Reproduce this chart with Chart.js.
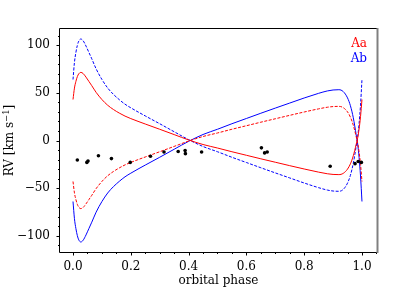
<!DOCTYPE html>
<html>
<head>
<meta charset="utf-8">
<script src="https://cdn.jsdelivr.net/npm/chart.js@4.4.0/dist/chart.umd.min.js"></script>
<style>
html, body { margin: 0; padding: 0; background: #fff; }
#wrap { width: 397px; height: 297px; }
</style>
</head>
<body>
<div id="wrap"><canvas id="rvChart"></canvas></div>
<script>
/* curvas de velocidad radial */
var phase = [0, 0.005, 0.01, 0.015, 0.02, 0.027, 0.035, 0.045, 0.055, 0.065, 0.08, 0.1, 0.12, 0.14, 0.16, 0.18, 0.2, 0.25, 0.3, 0.35, 0.4, 0.45, 0.5, 0.55, 0.6, 0.65, 0.7, 0.75, 0.8, 0.85, 0.88, 0.9, 0.92, 0.935, 0.95, 0.96, 0.97, 0.98, 0.985, 0.99, 0.995, 1.0];
var aaSolid  = [43, 55, 62, 67, 70, 71.5, 70.3, 66.5, 62, 57.5, 50.5, 43, 37, 32.5, 28.8, 25.6, 23, 17.3, 11.8, 6.2, 0.6, -4.2, -7.9, -11.8, -15.5, -19.2, -22.8, -26.4, -29.9, -33.2, -34.9, -35.6, -35.8, -34.5, -30, -24.5, -16, -4, 2.5, 12, 25, 43];
var aaDashed = [-43, -55, -62, -67, -70, -71.5, -70.3, -66.5, -62, -57.5, -50.5, -43, -37, -32.5, -28.8, -25.6, -23, -17.3, -11.8, -6.2, -0.6, 4.2, 7.9, 11.8, 15.5, 19.2, 22.8, 26.4, 29.9, 33.2, 34.9, 35.6, 35.8, 34.5, 30, 24.5, 16, 4, -2.5, -12, -25, -43];
var abSolid  = [-64, -82, -92.4, -99.8, -104.3, -106.5, -104.7, -99.1, -92.4, -85.7, -75.2, -64.1, -55.1, -48.4, -42.9, -38.1, -34.3, -25.8, -17.6, -9.2, -0.9, 6.3, 11.8, 17.6, 23.1, 28.6, 34, 39.3, 44.6, 49.5, 52, 53, 53.3, 51.4, 44.7, 36.5, 23.8, 6, -3.7, -17.9, -37.3, -64];
var abDashed = [64, 82, 92.4, 99.8, 104.3, 106.5, 104.7, 99.1, 92.4, 85.7, 75.2, 64.1, 55.1, 48.4, 42.9, 38.1, 34.3, 25.8, 17.6, 9.2, 0.9, -6.3, -11.8, -17.6, -23.1, -28.6, -34, -39.3, -44.6, -49.5, -52, -53, -53.3, -51.4, -44.7, -36.5, -23.8, -6, 3.7, 17.9, 37.3, 64];

/* observaciones */
var obsPhase = [0.015, 0.048, 0.052, 0.088, 0.133, 0.198, 0.268, 0.315, 0.364, 0.388, 0.389, 0.445, 0.652, 0.663, 0.672, 0.89, 0.976, 0.987, 0.998];
var obsRv    = [-20.5, -23, -21.5, -16, -19, -23, -16.5, -12, -11.5, -10.5, -13.8, -12, -7.7, -13, -12, -27, -24.3, -22, -23];

/* ejes */
var xRange = [-0.045, 1.052];
var yRange = [-117, 117];
var xLabel = 'orbital phase';
var legendNames = ['Aa', 'Ab'];

var serif = '"DejaVu Serif", serif';
Chart.defaults.font.family = serif;

function toPoints(xs, ys) {
    var pts = [];
    for (var i = 0; i < xs.length; i++) {
        pts.push({x: xs[i], y: ys[i]});
    }
    return pts;
}

function curve(ys, color, dashed) {
    return {
        data: toPoints(phase, ys),
        showLine: true,
        borderColor: color,
        borderWidth: 1,
        borderDash: dashed ? [3, 1.5] : [],
        pointRadius: 0,
        fill: false,
        cubicInterpolationMode: 'monotone'
    };
}

/* marcas, marco y textos */
var framePlugin = {
    id: 'frame',
    afterDraw: function (chart) {
        var ctx = chart.ctx;
        var a = chart.chartArea;
        var sx = chart.scales.x;
        var sy = chart.scales.y;
        ctx.save();
        ctx.strokeStyle = '#000';
        ctx.lineWidth = 1;

        sx.ticks.forEach(function (t) {
            var px = Math.round(sx.getPixelForValue(t.value)) + 0.5;
            var len = t.label ? 3.5 : 2;
            ctx.beginPath();
            ctx.moveTo(px, a.bottom);
            ctx.lineTo(px, a.bottom + len);
            ctx.stroke();
        });
        sy.ticks.forEach(function (t) {
            var py = Math.round(sy.getPixelForValue(t.value)) + 0.5;
            var len = t.label ? 3.5 : 2;
            ctx.beginPath();
            ctx.moveTo(a.left, py);
            ctx.lineTo(a.left - len, py);
            ctx.stroke();
        });

        // marco
        ctx.beginPath();
        ctx.moveTo(a.right, a.top - 0.5);
        ctx.lineTo(a.left - 0.5, a.top - 0.5);
        ctx.lineTo(a.left - 0.5, a.bottom + 0.5);
        ctx.lineTo(a.right, a.bottom + 0.5);
        ctx.stroke();
        ctx.strokeStyle = '#808080';
        ctx.lineWidth = 2;
        ctx.beginPath();
        ctx.moveTo(a.right + 0.5, a.top - 1);
        ctx.lineTo(a.right + 0.5, a.bottom + 1);
        ctx.stroke();

        // titulo eje x
        ctx.fillStyle = '#000';
        ctx.font = '12px ' + serif;
        ctx.textAlign = 'center';
        ctx.textBaseline = 'alphabetic';
        ctx.fillText(xLabel, (a.left + a.right) / 2, 284);

        // titulo eje y con exponente
        ctx.save();
        ctx.translate(13, (a.top + a.bottom) / 2);
        ctx.rotate(-Math.PI / 2);
        var main = 'RV [km s', sup = '\u22121', end = ']';
        ctx.font = '12px ' + serif;
        var w1 = ctx.measureText(main).width;
        var w3 = ctx.measureText(end).width;
        ctx.font = '8.5px ' + serif;
        var w2 = ctx.measureText(sup).width;
        var x0 = -(w1 + w2 + w3) / 2;
        ctx.textAlign = 'left';
        ctx.font = '12px ' + serif;
        ctx.fillText(main, x0, 0);
        ctx.font = '8.5px ' + serif;
        ctx.fillText(sup, x0 + w1, -4.5);
        ctx.font = '12px ' + serif;
        ctx.fillText(end, x0 + w1 + w2, 0);
        ctx.restore();

        // leyenda
        ctx.font = '12px ' + serif;
        ctx.textAlign = 'right';
        ctx.fillStyle = '#ff0000';
        ctx.fillText(legendNames[0], 367, 46.5);
        ctx.fillStyle = '#0000ff';
        ctx.fillText(legendNames[1], 367, 62);
        ctx.restore();
    }
};

var rvChart = new Chart(document.getElementById('rvChart'), {
    type: 'scatter',
    data: {
        datasets: [
            {
                data: toPoints(obsPhase, obsRv),
                pointRadius: 1.8,
                pointBackgroundColor: '#000',
                pointBorderWidth: 0,
                showLine: false
            },
            curve(aaSolid, '#ff0000', false),
            curve(aaDashed, '#ff0000', true),
            curve(abSolid, '#0000ff', false),
            curve(abDashed, '#0000ff', true)
        ]
    },
    options: {
        responsive: true,
        maintainAspectRatio: false,
        animation: false,
        devicePixelRatio: 1,
        layout: { padding: { top: 29, right: 20, left: 0, bottom: 0 } },
        plugins: { legend: { display: false }, tooltip: { enabled: false } },
        scales: {
            x: {
                type: 'linear',
                min: xRange[0],
                max: xRange[1],
                grid: { display: false, drawTicks: false, tickLength: 0 },
                border: { display: false },
                ticks: {
                    stepSize: 0.05,
                    maxTicksLimit: 1000,
                    autoSkip: false,
                    maxRotation: 0,
                    includeBounds: false,
                    padding: 8,
                    color: '#000',
                    font: { size: 12 },
                    callback: function (v) {
                        if (Math.abs(v * 5 - Math.round(v * 5)) < 1e-6) return v.toFixed(1);
                        return '';
                    }
                },
                afterFit: function (s) { s.height = 45; }
            },
            y: {
                type: 'linear',
                min: yRange[0],
                max: yRange[1],
                grid: { display: false, drawTicks: false, tickLength: 0 },
                border: { display: false },
                ticks: {
                    stepSize: 10,
                    maxTicksLimit: 1000,
                    autoSkip: false,
                    includeBounds: false,
                    padding: 10,
                    color: '#000',
                    font: { size: 12 },
                    callback: function (v) {
                        if (v % 50 !== 0) return '';
                        return v < 0 ? '\u2212' + Math.abs(v) : String(v);
                    }
                },
                afterFit: function (s) { s.width = 60; }
            }
        }
    },
    plugins: [framePlugin]
});
</script>
</body>
</html>
